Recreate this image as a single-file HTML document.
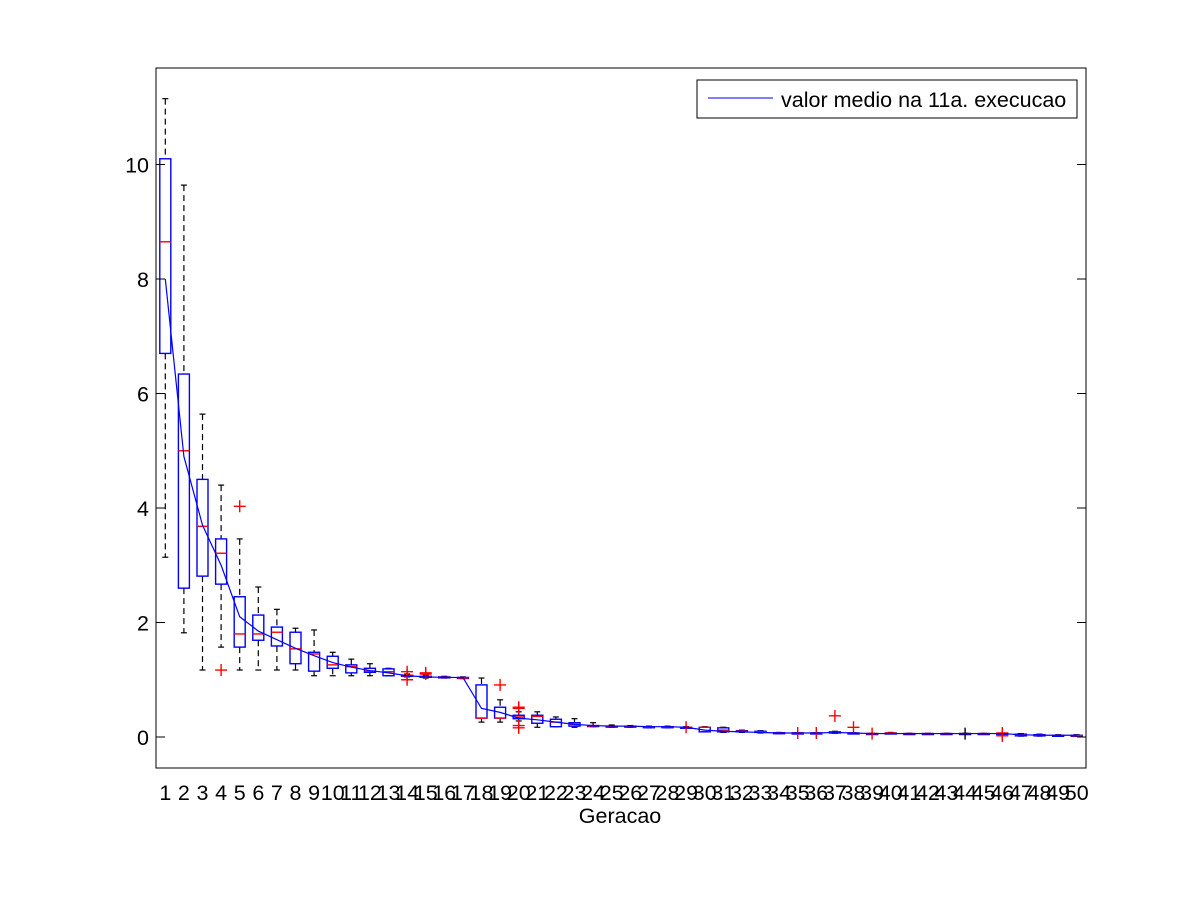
<!DOCTYPE html>
<html><head><meta charset="utf-8"><style>
body{margin:0;background:#fff;}
svg text{font-family:"Liberation Sans",sans-serif;}
</style></head><body>
<svg id="chart" width="1200" height="900" xmlns="http://www.w3.org/2000/svg">
<rect x="0" y="0" width="1200" height="900" fill="#fff"/>
<g id="plot"></g>
<rect x="156" y="68" width="930" height="700" fill="none" stroke="#000" stroke-width="1"/>
<g id="yticks"></g>
<g id="xticks"></g>
<text x="620" y="823" font-size="21.5" text-anchor="middle">Geracao</text>
<g>
<rect x="697" y="80" width="380" height="38" fill="#fff" stroke="#000"/>
<line x1="708" y1="98" x2="773" y2="98" stroke="#00f" stroke-width="1"/>
<text x="781" y="107" font-size="21.5">valor medio na 11a. execucao</text>
</g>
</svg>
<script>
const gens = Array.from({length:50},(_,i)=>i+1);
const q3 = [10.1,6.34,4.5,3.46,2.45,2.13,1.92,1.83,1.48,1.41,1.26,1.2,1.19,1.08,1.06,1.05,1.04,0.91,0.52,0.38,0.38,0.31,0.25,0.2,0.19,0.19,0.18,0.18,0.17,0.17,0.16,0.11,0.1,0.075,0.07,0.07,0.09,0.07,0.06,0.07,0.06,0.06,0.06,0.06,0.06,0.06,0.05,0.04,0.03,0.03];
const med = [8.65,5.0,3.68,3.21,1.8,1.8,1.83,1.54,1.45,1.26,1.23,1.15,1.14,1.07,1.05,1.04,1.03,0.33,0.33,0.35,0.36,0.26,0.22,0.195,0.185,0.185,0.175,0.175,0.17,0.17,0.12,0.1,0.09,0.07,0.07,0.07,0.08,0.07,0.06,0.07,0.06,0.06,0.06,0.06,0.06,0.06,0.04,0.03,0.03,0.025];
const q1 = [6.7,2.6,2.81,2.67,1.57,1.69,1.59,1.28,1.15,1.2,1.12,1.13,1.07,1.06,1.05,1.04,1.03,0.33,0.33,0.32,0.24,0.18,0.19,0.19,0.18,0.18,0.17,0.17,0.17,0.09,0.09,0.09,0.08,0.065,0.065,0.065,0.07,0.065,0.055,0.065,0.055,0.055,0.055,0.055,0.055,0.055,0.02,0.02,0.025,0.02];
const whiHi = [11.15,9.64,5.64,4.4,3.46,2.62,2.23,1.9,1.87,1.48,1.36,1.28,1.2,1.1,1.08,1.06,1.05,1.03,0.65,0.44,0.44,0.35,0.32,0.25,0.21,0.2,0.19,0.19,0.18,0.18,0.17,0.12,0.11,0.08,0.075,0.075,0.1,0.075,0.065,0.08,0.065,0.065,0.065,0.065,0.065,0.065,0.06,0.05,0.04,0.04];
const whiLo = [3.14,1.82,1.17,1.57,1.17,1.17,1.17,1.17,1.07,1.07,1.07,1.07,1.07,1.05,1.03,1.03,1.02,0.26,0.26,0.28,0.17,0.18,0.17,0.18,0.17,0.17,0.16,0.16,0.16,0.09,0.08,0.08,0.07,0.06,0.06,0.06,0.065,0.06,0.05,0.06,0.05,0.05,0.05,0.05,0.05,0.05,0.015,0.015,0.02,0.015];
const outGen = [4,5,14,14,14,15,15,19,20,20,20,20,29,35,36,37,38,39,44,46,46];
const outVal = [1.17,4.03,1.14,1.08,1.0,1.12,1.1,0.91,0.52,0.5,0.2,0.16,0.17,0.07,0.07,0.37,0.17,0.06,0.06,0.07,0.02];
const means = [8.0,4.9,3.7,3.0,2.1,1.85,1.7,1.55,1.42,1.3,1.22,1.16,1.12,1.07,1.05,1.04,1.04,0.5,0.43,0.33,0.3,0.26,0.22,0.2,0.19,0.19,0.18,0.18,0.17,0.12,0.1,0.09,0.08,0.07,0.07,0.07,0.08,0.07,0.06,0.06,0.06,0.06,0.06,0.06,0.06,0.06,0.04,0.03,0.03,0.03];
const yTicks = [0,2,4,6,8,10];

const NS="http://www.w3.org/2000/svg";
const X = g => 156 + (g-0.5)*930/50;
const Y = v => 737 - v*57.25;
function mk(tag, attrs, parent){const e=document.createElementNS(NS,tag);for(const k in attrs)e.setAttribute(k,attrs[k]);parent.appendChild(e);return e;}
const plot=document.getElementById('plot');
const hw=5.5, cw=3;
gens.forEach((g,i)=>{
  const x=X(g);
  const grp=mk('g',{},plot);
  
  
  mk('line',{x1:x,x2:x,y1:Y(whiHi[i]),y2:Y(q3[i]),stroke:'#000','stroke-dasharray':'6,4','stroke-width':1.2},grp);
  mk('line',{x1:x,x2:x,y1:Y(q1[i]),y2:Y(whiLo[i]),stroke:'#000','stroke-dasharray':'6,4','stroke-width':1.2},grp);
  mk('line',{x1:x-cw,x2:x+cw,y1:Y(whiHi[i]),y2:Y(whiHi[i]),stroke:'#000','stroke-width':1.2},grp);
  mk('line',{x1:x-cw,x2:x+cw,y1:Y(whiLo[i]),y2:Y(whiLo[i]),stroke:'#000','stroke-width':1.2},grp);
  const t=Y(q3[i]),b=Y(q1[i]);
  mk('rect',{x:x-hw,y:t,width:2*hw,height:Math.max(b-t,1),fill:'none',stroke:'#00f','stroke-width':1.4},grp);
  mk('line',{x1:x-hw,x2:x+hw,y1:Y(med[i]),y2:Y(med[i]),stroke:'#f00','stroke-width':1.4},grp);
});
outGen.forEach((g,i)=>{
  const x=X(g),y=Y(outVal[i]);
  const p=mk('path',{d:`M${x-6},${y}H${x+6}M${x},${y-6}V${y+6}`,stroke:g===44?'#000':'#f00','stroke-width':1.4,fill:'none'},plot);
  
  
});
const ml=mk('polyline',{points:means.map((m,i)=>X(gens[i])+','+Y(m)).join(' '),fill:'none',stroke:'#00f','stroke-width':1.2},plot);


const yt=document.getElementById('yticks');
yTicks.forEach(v=>{
  const y=Y(v);
  mk('line',{x1:156,x2:165,y1:y,y2:y,stroke:'#000'},yt);
  mk('line',{x1:1077,x2:1086,y1:y,y2:y,stroke:'#000'},yt);
  const t=mk('text',{x:149,y:y+8,'font-size':21.5,'text-anchor':'end'},yt);
  t.textContent=v;
  
  
});
const xt=document.getElementById('xticks');
gens.forEach(g=>{
  const t=mk('text',{x:X(g),y:800,'font-size':21.5,'text-anchor':'middle'},xt);
  t.textContent=g;
  
  
});
</script>
</body></html>
